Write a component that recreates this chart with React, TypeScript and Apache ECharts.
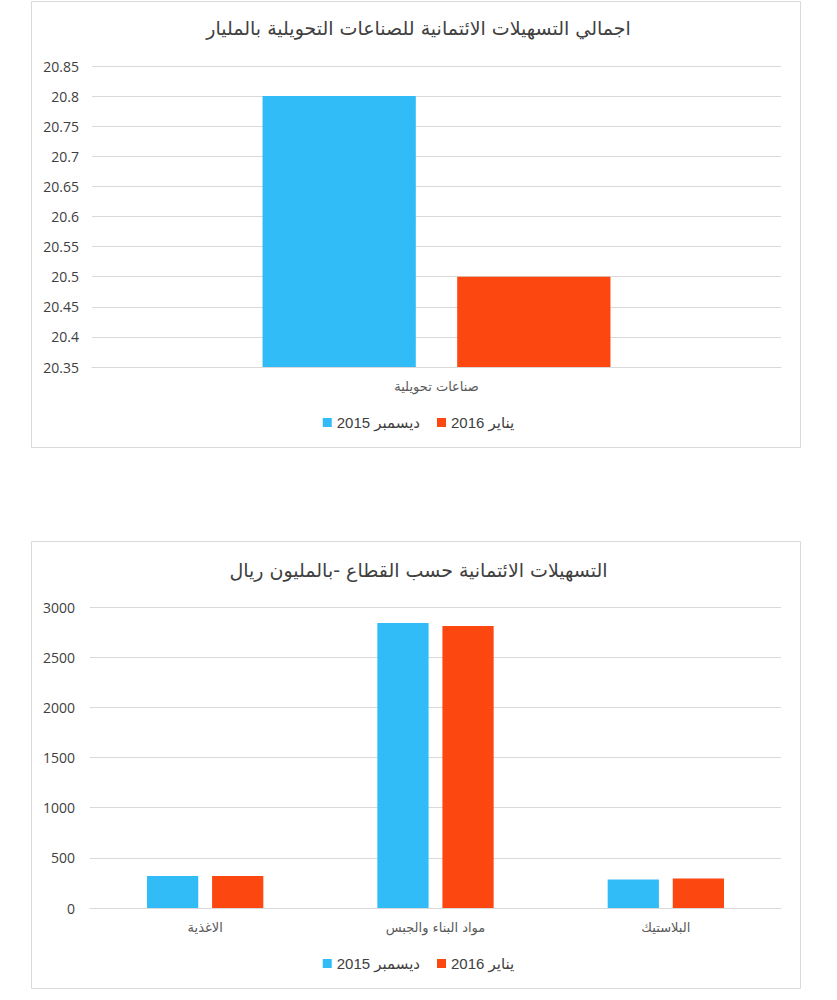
import React, { useEffect, useRef } from "react";
import * as echarts from "echarts";

const seriesNames = ["ديسمبر 2015", "يناير 2016"];
const colors = ["#31bcf7", "#fd4710"];

const topTitle = "اجمالي التسهيلات الائتمانية للصناعات التحويلية بالمليار";
const topCategories = ["صناعات تحويلية"];
const topDec2015 = [20.8];
const topJan2016 = [20.5];
const topAxis = { min: 20.35, max: 20.85, interval: 0.05 };

const bottomTitle = "التسهيلات الائتمانية حسب القطاع -بالمليون ريال";
const sectorCategories = ["الاغذية", "مواد البناء والجبس", "البلاستيك"];
const sectorDec2015 = [320, 2840, 285];
const sectorJan2016 = [320, 2810, 295];
const bottomAxis = { min: 0, max: 3000, interval: 500 };

const ARABIC = "'DejaVu Sans', 'Noto Sans', sans-serif";
const NUM = "'Open Sans', 'Liberation Sans', sans-serif";
const LEG = "'Liberation Sans', 'DejaVu Sans', sans-serif";

export default function App() {
  const ref = useRef<HTMLDivElement>(null);
  useEffect(() => {
    if (!ref.current) return;
    const chart = echarts.init(ref.current, null, { renderer: "svg" });
    const gridLine = { show: true, lineStyle: { color: "#d9d9d9", width: 1 } };
    const xAxisCommon = {
      type: "category" as const,
      axisLine: { show: true, lineStyle: { color: "#d9d9d9", width: 1 } },
      axisTick: { show: false },
      axisLabel: { color: "#595959", fontSize: 13, fontFamily: ARABIC, margin: 13 },
    };
    const yAxisCommon = {
      type: "value" as const,
      axisLine: { show: false },
      axisTick: { show: false },
      splitLine: gridLine,
      axisLabel: {
        color: "#404040",
        fontSize: 14,
        fontFamily: NUM,
        formatter: (v: number) => String(Math.round(v * 1000) / 1000),
      },
    };
    const legendCommon = {
      data: seriesNames,
      icon: "rect",
      itemWidth: 9,
      itemHeight: 9,
      itemGap: 17,
      textStyle: { color: "#404040", fontSize: 15, fontFamily: LEG },
    };
    const barCommon = {
      type: "bar" as const,
      barGap: "27%",
      barCategoryGap: "49.5%",
    };
    const titleStyle = { color: "#404040", fontSize: 19, fontWeight: "normal", fontFamily: ARABIC };
    chart.setOption({
      animation: false,
      backgroundColor: "#ffffff",
      title: [
        { text: topTitle, left: "center", top: 13, textStyle: titleStyle },
        { text: bottomTitle, left: "center", top: 555, textStyle: titleStyle },
      ],
      legend: [
        { ...legendCommon, left: "center", top: 410 },
        { ...legendCommon, left: "center", top: 951 },
      ],
      grid: [
        { left: 92, right: 56, top: 66, height: 301 },
        { left: 90, right: 56, top: 607, height: 301 },
      ],
      xAxis: [
        { ...xAxisCommon, gridIndex: 0, data: topCategories },
        { ...xAxisCommon, gridIndex: 1, data: sectorCategories },
      ],
      yAxis: [
        { ...yAxisCommon, gridIndex: 0, ...topAxis, axisLabel: { ...yAxisCommon.axisLabel, margin: 13 } },
        { ...yAxisCommon, gridIndex: 1, ...bottomAxis, axisLabel: { ...yAxisCommon.axisLabel, margin: 15 } },
      ],
      series: [
        { ...barCommon, name: seriesNames[0], xAxisIndex: 0, yAxisIndex: 0, data: topDec2015, itemStyle: { color: colors[0] } },
        { ...barCommon, name: seriesNames[1], xAxisIndex: 0, yAxisIndex: 0, data: topJan2016, itemStyle: { color: colors[1] } },
        { ...barCommon, name: seriesNames[0], xAxisIndex: 1, yAxisIndex: 1, data: sectorDec2015, itemStyle: { color: colors[0] } },
        { ...barCommon, name: seriesNames[1], xAxisIndex: 1, yAxisIndex: 1, data: sectorJan2016, itemStyle: { color: colors[1] } },
      ],
      graphic: [
        {
          type: "rect",
          shape: { x: 31.5, y: 1.5, width: 769, height: 446 },
          style: { fill: "none", stroke: "#d9d9d9", lineWidth: 1 },
          silent: true,
        },
        {
          type: "rect",
          shape: { x: 31.5, y: 541.5, width: 769, height: 447 },
          style: { fill: "none", stroke: "#d9d9d9", lineWidth: 1 },
          silent: true,
        },
      ],
    });
    return () => chart.dispose();
  }, []);
  return (
    <div
      ref={ref}
      style={{ position: "absolute", left: 0, top: 0, width: 837, height: 1000 }}
    />
  );
}
